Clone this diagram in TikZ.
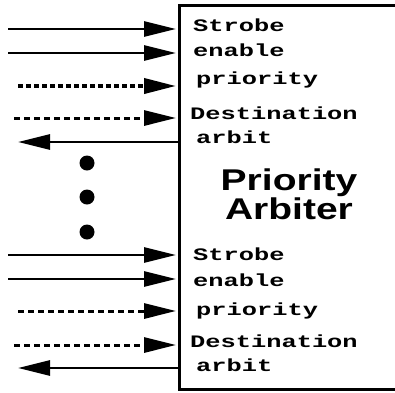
\documentclass[tikz,border=0pt]{standalone}
\usepackage{fontspec}
\usetikzlibrary{arrows.meta}
\newfontfamily\lblfont[FakeStretch=1.45]{Liberation Mono}
\newfontfamily\ttlfont[FakeStretch=1.3]{Liberation Sans}
\tikzset{
  sig/.style={line width=2.8pt, -{Triangle[length=32pt,width=15pt]}},
  dotsig/.style={sig, line width=3.8pt, dash pattern=on 5pt off 3pt},
  dashsig/.style={sig, line width=3pt, dash pattern=on 6pt off 4pt},
  lbl/.style={anchor=west, inner sep=0pt, font=\lblfont\bfseries\fontsize{17.5}{18}\selectfont},
  ttl/.style={align=center, inner sep=0pt, font=\ttlfont\bfseries\fontsize{30}{27}\selectfont},
  blob/.style={circle, fill=black, minimum size=15pt, inner sep=0pt},
  boxline/.style={line width=3pt}
}
\begin{document}
\begin{tikzpicture}[x=1pt,y=-1pt]
\useasboundingbox (0,0) rectangle (395,392);
% box
\draw[boxline] (405,5) -- (179,5) -- (179,389) -- (405,389);
% edge coordinates
\foreach \n/\y in {a/29,b/53,c/86,d/118,e/142,f/255,g/279,h/311,i/345,j/368}
  \coordinate (e\n) at (176,\y);
\coordinate (sa) at (8,29);
\coordinate (sb) at (8,53);
\coordinate (sc) at (18,86);
\coordinate (sd) at (14,118);
\coordinate (se) at (18,142);
\coordinate (sf) at (8,255);
\coordinate (sg) at (8,279);
\coordinate (sh) at (18,311);
\coordinate (si) at (14,345);
\coordinate (sj) at (18,368);
\coordinate (ee2) at (179,142);
\coordinate (ej2) at (179,368);
% arrows
\draw[sig] (sa) -- (ea);
\draw[sig] (sb) -- (eb);
\draw[dotsig] (sc) -- (ec);
\draw[dashsig] (sd) -- (ed);
\draw[sig] (ee2) -- (se);
\draw[sig] (sf) -- (ef);
\draw[sig] (sg) -- (eg);
\draw[dashsig] (sh) -- (eh);
\draw[dashsig] (si) -- (ei);
\draw[sig] (ej2) -- (sj);
% dots
\node[blob] (d1) at (87,163) {};
\node[blob] (d2) at (87,197) {};
\node[blob] (d3) at (87,232) {};
% labels
\node[lbl] (l1) at (193,25) {Strobe};
\node[lbl] (l2) at (193,50) {enable};
\node[lbl] (l3) at (196,80) {priority};
\node[lbl] (l4) at (190,113) {Destination};
\node[lbl] (l5) at (196,137) {arbit};
\node[lbl] (l6) at (193,254) {Strobe};
\node[lbl] (l7) at (193,280) {enable};
\node[lbl] (l8) at (196,311) {priority};
\node[lbl] (l9) at (190,341) {Destination};
\node[lbl] (l10) at (196,365) {arbit};
\node[ttl] (title) at (289,194) {Priority\\Arbiter};
\end{tikzpicture}
\end{document}
